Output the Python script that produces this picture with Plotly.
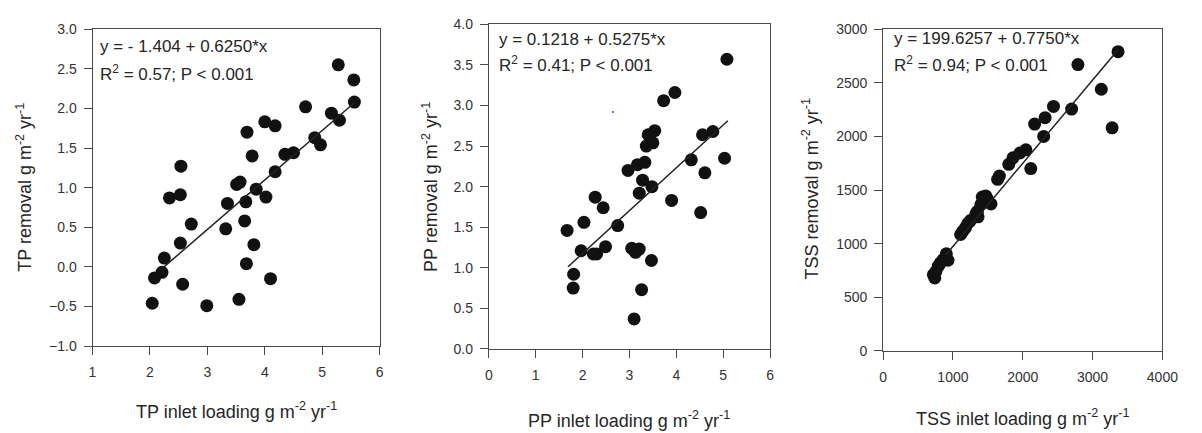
import plotly.graph_objects as go

# ---------------- data ----------------
tp_inlet = [2.04, 2.08, 2.21, 2.25, 2.34, 2.53, 2.54, 2.53, 2.57, 2.72, 2.99, 3.32, 3.35,
            3.51, 3.57, 3.55, 3.67, 3.65, 3.69, 3.68, 3.78, 3.81, 3.85, 4.00, 4.02, 4.10,
            4.18, 4.18, 4.35, 4.50, 4.71, 4.87, 4.97, 5.16, 5.30, 5.28, 5.55, 5.56]
tp_removal = [-0.46, -0.14, -0.07, 0.11, 0.87, 0.91, 1.27, 0.30, -0.22, 0.54, -0.49, 0.48, 0.80,
              1.04, 1.07, -0.41, 0.82, 0.58, 1.70, 0.04, 1.40, 0.28, 0.98, 1.83, 0.88, -0.15,
              1.78, 1.20, 1.42, 1.44, 2.02, 1.63, 1.54, 1.94, 1.85, 2.55, 2.36, 2.08]

pp_inlet = [1.67, 1.81, 1.80, 1.97, 2.03, 2.27, 2.44, 2.23, 2.30, 2.49, 2.75, 2.97, 3.05,
            3.13, 3.21, 3.10, 3.17, 3.21, 3.26, 3.28, 3.33, 3.36, 3.40, 3.50, 3.54, 3.48,
            3.47, 3.73, 3.97, 3.90, 4.32, 4.52, 4.56, 4.61, 4.78, 5.03, 5.08]
pp_removal = [1.46, 0.92, 0.75, 1.21, 1.56, 1.87, 1.74, 1.17, 1.17, 1.26, 1.52, 2.20, 1.24,
              1.19, 1.23, 0.37, 2.27, 1.92, 0.73, 2.08, 2.30, 2.50, 2.64, 2.54, 2.69, 2.00,
              1.09, 3.06, 3.16, 1.83, 2.33, 1.68, 2.64, 2.17, 2.68, 2.35, 3.57]

tss_inlet = [720, 740, 755, 790, 820, 860, 905, 930, 1110, 1140, 1180, 1215, 1250, 1330,
             1360, 1350, 1400, 1420, 1470, 1490, 1545, 1640, 1665, 1800, 1860, 1960, 2045,
             2115, 2170, 2300, 2320, 2440, 2700, 2790, 3125, 3280, 3365]
tss_removal = [710, 680, 740, 790, 820, 850, 905, 845, 1085, 1115, 1150, 1190, 1215, 1280,
               1250, 1300, 1365, 1435, 1445, 1420, 1370, 1600, 1630, 1740, 1800, 1845, 1875,
               1700, 2115, 2000, 2175, 2280, 2255, 2670, 2440, 2080, 2790]

# regression fits: intercept, slope, x extent of drawn line
tp_fit = (-1.404, 0.6250, [2.25, 5.56])
pp_fit = (0.1218, 0.5275, [1.69, 5.10])
tss_fit = (199.6257, 0.7750, [900, 3365])

tp_eq = ["y = - 1.404 + 0.6250*x", "R<sup>2</sup> = 0.57; P < 0.001"]
pp_eq = ["y = 0.1218 + 0.5275*x", "R<sup>2</sup> = 0.41; P < 0.001"]
tss_eq = ["y = 199.6257 + 0.7750*x", "R<sup>2</sup> = 0.94; P < 0.001"]

tp_ticks_x = [1, 2, 3, 4, 5, 6]
tp_ticks_y = [-1.0, -0.5, 0.0, 0.5, 1.0, 1.5, 2.0, 2.5, 3.0]
pp_ticks_x = [0, 1, 2, 3, 4, 5, 6]
pp_ticks_y = [0.0, 0.5, 1.0, 1.5, 2.0, 2.5, 3.0, 3.5, 4.0]
tss_ticks_x = [0, 1000, 2000, 3000, 4000]
tss_ticks_y = [0, 500, 1000, 1500, 2000, 2500, 3000]

stray_x = [2.65]
stray_y = [2.92]

# ---------------- figure ----------------
W, H = 1202, 433
FONT = "Liberation Sans, Arial, sans-serif"
TXT = "#262626"
AX = "#4a4a4a"

def px_x(p):
    return p / W

def px_y(p):
    return (H - p) / H

panels = [
    dict(x=tp_inlet, y=tp_removal, fit=tp_fit, eq=tp_eq, xt=tp_ticks_x, yt=tp_ticks_y,
         xr=[1, 6], yr=[-1, 3], fmt=".1f", dom=(90, 382, 22, 351),
         xtitle="TP inlet loading g m<sup>-2</sup> yr<sup>-1</sup>",
         ytitle="TP removal g m<sup>-2</sup> yr<sup>-1</sup>",
         eqpos=(96, 40, 67), xtpos=(236, 418), ytpos=(20, 186)),
    dict(x=pp_inlet, y=pp_removal, fit=pp_fit, eq=pp_eq, xt=pp_ticks_x, yt=pp_ticks_y,
         xr=[0, 6], yr=[0, 4], fmt=".1f", dom=(493, 779, 17, 354),
         xtitle="PP inlet loading g m<sup>-2</sup> yr<sup>-1</sup>",
         ytitle="PP removal g m<sup>-2</sup> yr<sup>-1</sup>",
         eqpos=(501, 33, 58), xtpos=(636, 427), ytpos=(433, 186)),
    dict(x=tss_inlet, y=tss_removal, fit=tss_fit, eq=tss_eq, xt=tss_ticks_x, yt=tss_ticks_y,
         xr=[0, 4000], yr=[0, 3000], fmt="d", dom=(894, 1178, 22, 356),
         xtitle="TSS inlet loading g m<sup>-2</sup> yr<sup>-1</sup>",
         ytitle="TSS removal g m<sup>-2</sup> yr<sup>-1</sup>",
         eqpos=(903, 32, 58), xtpos=(1036, 425), ytpos=(820, 188)),
]

fig = go.Figure()
layout = dict(width=W, height=H, margin=dict(l=0, r=0, t=0, b=0),
              paper_bgcolor="white", plot_bgcolor="white", showlegend=False,
              font=dict(family=FONT, color=TXT))
annotations = []

for i, p in enumerate(panels, start=1):
    xa = "x" if i == 1 else f"x{i}"
    ya = "y" if i == 1 else f"y{i}"
    fig.add_trace(go.Scatter(x=p["x"], y=p["y"], mode="markers", xaxis=xa, yaxis=ya,
                             marker=dict(size=13, color="#111111", line=dict(width=0)),
                             cliponaxis=False))
    b0, b1, ext = p["fit"]
    fit_y = [b0 + b1 * v for v in ext]
    fig.add_trace(go.Scatter(x=ext, y=fit_y, mode="lines", xaxis=xa, yaxis=ya,
                             line=dict(color="#222222", width=1.5)))
    l, r, t, b = p["dom"]
    axis_common = dict(showline=True, linecolor=AX, linewidth=1, mirror=True,
                       ticks="outside", ticklen=8, tickcolor=AX, tickwidth=1,
                       showgrid=False, zeroline=False,
                       tickfont=dict(family=FONT, size=14, color="#333333"))
    layout["xaxis" if i == 1 else f"xaxis{i}"] = dict(
        domain=[px_x(l), px_x(r)], range=p["xr"], tickvals=p["xt"],
        anchor=ya, ticklabelstandoff=5, **axis_common)
    layout["yaxis" if i == 1 else f"yaxis{i}"] = dict(
        domain=[px_y(b), px_y(t)], range=p["yr"], tickvals=p["yt"], tickformat=p["fmt"],
        anchor=xa, ticklabelstandoff=4, **axis_common)
    ex, ey1, ey2 = p["eqpos"]
    annotations.append(dict(text=p["eq"][0], xref="paper", yref="paper", x=px_x(ex), y=px_y(ey1),
                            xanchor="left", yanchor="middle", showarrow=False,
                            font=dict(family=FONT, size=17, color=TXT)))
    annotations.append(dict(text=p["eq"][1], xref="paper", yref="paper", x=px_x(ex), y=px_y(ey2),
                            xanchor="left", yanchor="middle", showarrow=False,
                            font=dict(family=FONT, size=17, color=TXT)))
    tx, ty = p["xtpos"]
    annotations.append(dict(text=p["xtitle"], xref="paper", yref="paper", x=px_x(tx), y=px_y(ty),
                            xanchor="center", yanchor="middle", showarrow=False,
                            font=dict(family=FONT, size=18, color=TXT)))
    yx, yy = p["ytpos"]
    annotations.append(dict(text=p["ytitle"], xref="paper", yref="paper", x=px_x(yx), y=px_y(yy),
                            xanchor="center", yanchor="middle", showarrow=False, textangle=-90,
                            font=dict(family=FONT, size=18, color=TXT)))

fig.add_trace(go.Scatter(x=stray_x, y=stray_y, mode="markers", xaxis="x2", yaxis="y2",
                         marker=dict(size=2, color="#3b3bff")))

layout["annotations"] = annotations
fig.update_layout(**layout)
fig.write_html("out.html")
